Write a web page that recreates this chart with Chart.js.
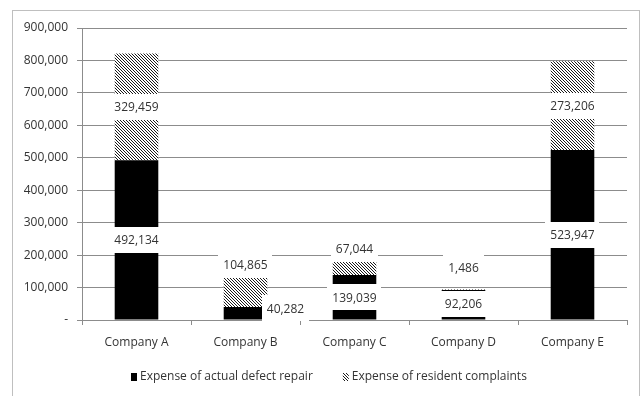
<!DOCTYPE html>
<html>
<head>
<meta charset="utf-8">
<script src="https://cdn.jsdelivr.net/npm/chart.js@4.4.1/dist/chart.umd.min.js"></script>
<style>
  html, body { margin: 0; padding: 0; background: #fff; }
  #wrap { width: 642px; height: 396px; position: relative; }
</style>
</head>
<body>
<div id="wrap"><canvas id="c" width="642" height="396"></canvas></div>
<script>
// Categories and series values
const companies = ['Company A', 'Company B', 'Company C', 'Company D', 'Company E'];
const repairCost = [492134, 40282, 139039, 92206, 523947];
const complaintCost = [329459, 104865, 67044, 1486, 273206];
const seriesNames = ['Expense of actual defect repair', 'Expense of resident complaints'];
const yTicks = [0, 100000, 200000, 300000, 400000, 500000, 600000, 700000, 800000, 900000];

// Where each value label sits relative to its segment's centre (px)
const labelShift = [
  [[0, 0], [40, -5], [0, 0], [0, -1], [0, 0]],
  [[0, 0], [0, -25], [0, -15], [0, -22], [0, 0]]
];

const FONT = "'Open Sans', 'Liberation Sans', sans-serif";
const TEXT = '#333333';
const GRID = '#8c8c8c';

// Diagonal hatch fill
function makeHatch() {
  const t = document.createElement('canvas');
  t.width = 3; t.height = 3;
  const g = t.getContext('2d');
  g.fillStyle = '#ffffff';
  g.fillRect(0, 0, 3, 3);
  g.fillStyle = '#1a1a1a';
  for (let i = 0; i < 3; i++) g.fillRect(i, i, 1, 1);
  return document.getElementById('c').getContext('2d').createPattern(t, 'repeat');
}
const hatch = makeHatch();

const fmt = v => v.toLocaleString('en-US');

// Outer frame of the chart
const framePlugin = {
  id: 'frame',
  beforeDraw(chart) {
    const ctx = chart.ctx;
    ctx.save();
    ctx.fillStyle = '#fff';
    ctx.fillRect(0, 0, chart.width, chart.height);
    ctx.strokeStyle = '#bfbfbf';
    ctx.lineWidth = 1;
    ctx.strokeRect(12.5, 10.5, 627, 400);
    ctx.restore();
  }
};

// Value labels on white boxes
const valueLabels = {
  id: 'valueLabels',
  afterDatasetsDraw(chart) {
    const ctx = chart.ctx;
    ctx.save();
    ctx.font = '12px ' + FONT;
    ctx.textAlign = 'center';
    ctx.textBaseline = 'middle';
    chart.data.datasets.forEach((ds, di) => {
      const meta = chart.getDatasetMeta(di);
      meta.data.forEach((bar, i) => {
        const txt = fmt(ds.data[i]);
        const cx = bar.x + labelShift[di][i][0];
        const cy = (bar.y + bar.base) / 2 + labelShift[di][i][1];
        const w = ctx.measureText(txt).width + 10;
        const h = 26;
        ctx.fillStyle = '#fff';
        ctx.fillRect(Math.round(cx - w / 2), Math.round(cy - h / 2), Math.round(w), h);
        ctx.fillStyle = TEXT;
        ctx.fillText(txt, cx, cy + 1);
      });
    });
    ctx.restore();
  }
};

// Legend row under the axis
const legendRow = {
  id: 'legendRow',
  afterDraw(chart) {
    const ctx = chart.ctx;
    ctx.save();
    ctx.font = '12px ' + FONT;
    ctx.textBaseline = 'middle';
    const box = 6, gapText = 3, gapItem = 30;
    const items = chart.data.datasets.map(ds => ({
      text: ds.label, fill: ds.backgroundColor, w: ctx.measureText(ds.label).width
    }));
    const total = items.reduce((s, it) => s + box + gapText + it.w, 0) + gapItem * (items.length - 1);
    let x = Math.round(329 - total / 2);
    const y = 377;
    items.forEach(it => {
      ctx.fillStyle = it.fill;
      ctx.fillRect(x, y - 4, box, 8);
      ctx.fillStyle = TEXT;
      ctx.fillText(it.text, x + box + gapText, y);
      x += box + gapText + it.w + gapItem;
    });
    ctx.restore();
  }
};

new Chart(document.getElementById('c'), {
  type: 'bar',
  data: {
    labels: companies,
    datasets: [
      { label: seriesNames[0], data: repairCost, backgroundColor: '#000000', borderWidth: 0 },
      { label: seriesNames[1], data: complaintCost, backgroundColor: hatch, borderWidth: 0 }
    ]
  },
  options: {
    responsive: false,
    animation: false,
    events: [],
    layout: { padding: { left: 12, right: 15, top: 28, bottom: 34 } },
    datasets: { bar: { categoryPercentage: 1, barPercentage: 0.4 } },
    plugins: {
      tooltip: { enabled: false },
      legend: { display: false }
    },
    scales: {
      x: {
        stacked: true,
        afterFit(scale) { scale.height = 42; },
        grid: { drawOnChartArea: false, color: GRID, tickLength: 5, offset: true },
        border: { color: GRID },
        ticks: { font: { family: FONT, size: 12 }, color: TEXT, padding: 10 }
      },
      y: {
        stacked: true,
        min: 0,
        max: 900000,
        afterBuildTicks(scale) { scale.ticks = yTicks.map(v => ({ value: v })); },
        afterFit(scale) { scale.width = 70; },
        grid: { color: GRID, tickLength: 5 },
        border: { color: GRID },
        ticks: {
          font: { family: FONT, size: 12 },
          color: TEXT,
          padding: 9,
          callback: v => v === 0 ? '-' : fmt(v)
        }
      }
    }
  },
  plugins: [framePlugin, valueLabels, legendRow]
});
</script>
</body>
</html>
